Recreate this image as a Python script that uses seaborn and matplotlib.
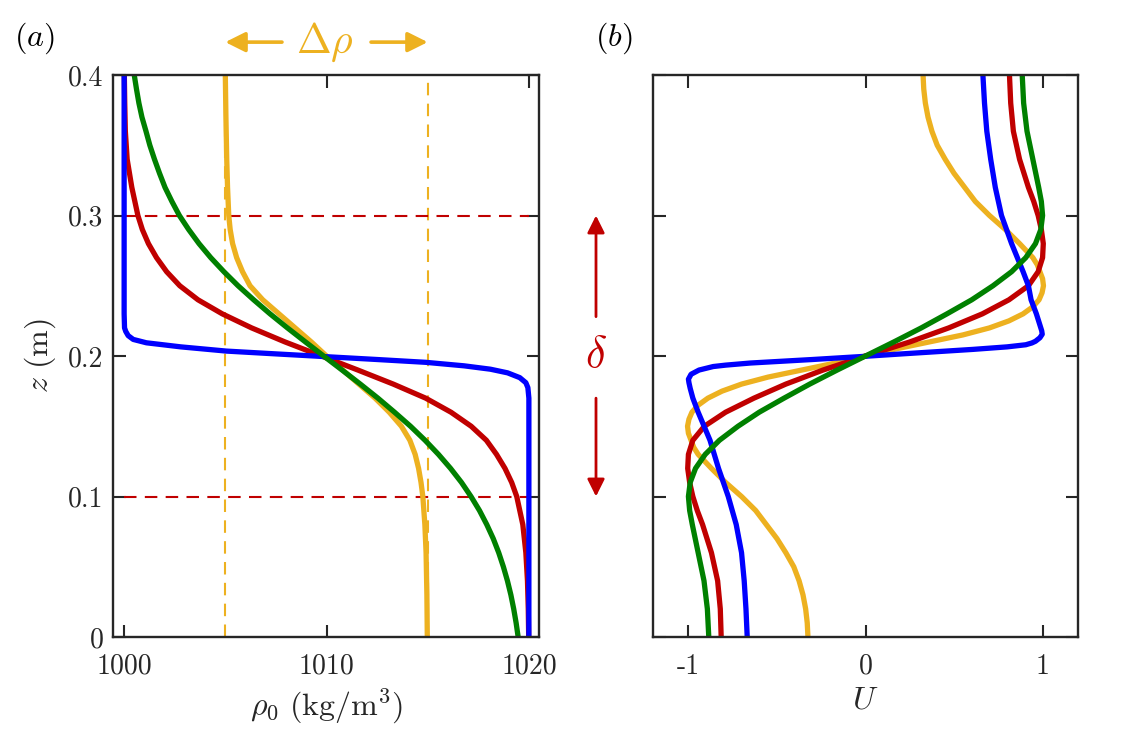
import matplotlib
matplotlib.use("Agg")
import matplotlib.pyplot as plt
import matplotlib.transforms as mtransforms
import seaborn as sns
import pandas as pd

# ---- panel (a): density profiles rho_0(z) ----
z_blue_a = [0.400, 0.300, 0.230, 0.220, 0.2175, 0.2145, 0.2118, 0.2094, 0.2065, 0.2035, 0.2015, 0.1995,
            0.1975, 0.1955, 0.1930, 0.1906, 0.1880, 0.1846, 0.1810, 0.1775, 0.1700, 0.1000, 0.000]
rho_blue = [1000.0, 1000.0, 1000.0, 1000.02, 1000.08, 1000.2, 1000.45, 1001.1, 1002.8, 1005.05, 1007.5, 1010.0,
            1012.5, 1014.9, 1016.8, 1018.1, 1018.95, 1019.55, 1019.85, 1019.95, 1020.0, 1020.0, 1020.0]

z_red_a = [0.40, 0.38, 0.36, 0.34, 0.32, 0.30, 0.29, 0.28, 0.27, 0.26, 0.25, 0.24, 0.23, 0.22, 0.21, 0.20,
           0.19, 0.18, 0.17, 0.16, 0.15, 0.14, 0.13, 0.12, 0.11, 0.10, 0.08, 0.06, 0.04, 0.02, 0.00]
rho_red = [1000.01, 1000.03, 1000.06, 1000.15, 1000.38, 1000.68, 1000.9, 1001.2, 1001.6, 1002.1, 1002.75,
           1003.65, 1004.85, 1006.3, 1007.95, 1009.75, 1011.55, 1013.3, 1014.9, 1016.15, 1017.15, 1017.9,
           1018.4, 1018.82, 1019.15, 1019.4, 1019.7, 1019.85, 1019.93, 1019.97, 1019.99]

z_green_a = [0.40, 0.39, 0.38, 0.37, 0.36, 0.35, 0.34, 0.33, 0.32, 0.31, 0.30, 0.29, 0.28, 0.27, 0.26,
             0.25, 0.24, 0.23, 0.22, 0.21, 0.20, 0.19, 0.18, 0.17, 0.16, 0.15, 0.14, 0.13, 0.12, 0.11,
             0.10, 0.09, 0.08, 0.07, 0.06, 0.05, 0.04, 0.03, 0.02, 0.01, 0.00]
rho_green = [1000.5, 1000.61, 1000.73, 1000.88, 1001.08, 1001.27, 1001.5, 1001.75, 1002.02, 1002.36, 1002.73,
             1003.19, 1003.7, 1004.28, 1004.93, 1005.63, 1006.4, 1007.21, 1008.07, 1008.96, 1009.86,
             1010.77, 1011.67, 1012.54, 1013.36, 1014.15, 1014.87, 1015.53, 1016.13, 1016.67, 1017.14,
             1017.56, 1017.92, 1018.24, 1018.51, 1018.74, 1018.94, 1019.11, 1019.25, 1019.37, 1019.47]

z_yel_a = [0.40, 0.37, 0.34, 0.32, 0.30, 0.29, 0.28, 0.27, 0.26, 0.25, 0.24, 0.23, 0.22, 0.21, 0.20,
           0.19, 0.18, 0.17, 0.16, 0.15, 0.14, 0.13, 0.12, 0.11, 0.10, 0.08, 0.06, 0.03, 0.00]
rho_yel = [1005.0, 1005.03, 1005.07, 1005.11, 1005.17, 1005.24, 1005.36, 1005.56, 1005.85, 1006.22, 1006.85,
           1007.65, 1008.45, 1009.25, 1010.0, 1010.8, 1011.6, 1012.4, 1013.1, 1013.7, 1014.12, 1014.38,
           1014.55, 1014.67, 1014.76, 1014.86, 1014.92, 1014.96, 1014.98]

# ---- panel (b): velocity profiles U(z) ----
z_blue_b = [0.40, 0.38, 0.36, 0.34, 0.32, 0.30, 0.28, 0.26, 0.25, 0.24, 0.23, 0.222, 0.218, 0.2155, 0.213,
            0.2105, 0.2093, 0.208, 0.2065, 0.2047, 0.2017, 0.1998, 0.1975, 0.195, 0.1935, 0.1925, 0.190,
            0.187, 0.1835, 0.181, 0.177, 0.170, 0.16, 0.14, 0.12, 0.10, 0.08, 0.06, 0.04, 0.02, 0.0]
U_blue = [0.663, 0.672, 0.685, 0.707, 0.733, 0.768, 0.825, 0.89, 0.92, 0.935, 0.965, 0.985, 0.995, 0.998, 0.985,
          0.96, 0.94, 0.905, 0.80, 0.606, 0.23, 0.0, -0.3, -0.65, -0.79, -0.86, -0.94,
          -0.985, -1.0, -0.997, -0.99, -0.975, -0.945, -0.878, -0.83, -0.775, -0.73, -0.70, -0.685, -0.675, -0.668]

z_red_b = [0.40, 0.38, 0.36, 0.34, 0.32, 0.31, 0.30, 0.29, 0.28, 0.27, 0.26, 0.25, 0.24, 0.23, 0.22, 0.21,
           0.20, 0.19, 0.18, 0.17, 0.16, 0.15, 0.14, 0.13, 0.12, 0.11, 0.10, 0.09, 0.08, 0.06, 0.04, 0.02, 0.0]
U_red = [0.813, 0.82, 0.835, 0.87, 0.92, 0.95, 0.975, 0.993, 1.004, 1.0, 0.975, 0.92, 0.81, 0.66, 0.47, 0.25,
         0.0, -0.24, -0.45, -0.63, -0.79, -0.91, -0.975, -1.0, -1.004, -0.993, -0.975, -0.95, -0.92, -0.87,
         -0.835, -0.82, -0.815]

z_green_b = [0.40, 0.38, 0.36, 0.34, 0.32, 0.31, 0.30, 0.29, 0.28, 0.27, 0.26, 0.25, 0.24, 0.23, 0.22, 0.21,
             0.20, 0.19, 0.18, 0.17, 0.16, 0.15, 0.14, 0.13, 0.12, 0.11, 0.10, 0.09, 0.08, 0.06, 0.04, 0.02, 0.0]
U_green = [0.885, 0.893, 0.912, 0.945, 0.978, 0.993, 1.0, 0.99, 0.96, 0.905, 0.825, 0.72, 0.6, 0.46, 0.315, 0.16,
           0.0, -0.16, -0.315, -0.46, -0.6, -0.72, -0.825, -0.905, -0.96, -0.99, -1.0, -0.993, -0.978, -0.945,
           -0.912, -0.893, -0.885]

z_yel_b = [0.40, 0.39, 0.38, 0.37, 0.36, 0.35, 0.34, 0.33, 0.32, 0.31, 0.30, 0.29, 0.28, 0.27, 0.265, 0.26,
           0.255, 0.25, 0.245, 0.24, 0.235, 0.23, 0.225, 0.22, 0.215, 0.21, 0.205, 0.20,
           0.195, 0.19, 0.185, 0.18, 0.175, 0.17, 0.165, 0.16, 0.155, 0.15, 0.145, 0.14, 0.135, 0.13,
           0.12, 0.11, 0.10, 0.09, 0.08, 0.07, 0.06, 0.05, 0.04, 0.03, 0.02, 0.01, 0.0]
U_yel = [0.325, 0.329, 0.338, 0.353, 0.375, 0.405, 0.45, 0.5, 0.56, 0.62, 0.70, 0.79, 0.87, 0.945, 0.97, 0.985,
         1.0, 1.005, 0.997, 0.98, 0.945, 0.89, 0.81, 0.70, 0.55, 0.36, 0.17, 0.0,
         -0.17, -0.36, -0.55, -0.70, -0.81, -0.89, -0.945, -0.98, -0.997, -1.005, -1.0, -0.985, -0.97, -0.945,
         -0.87, -0.79, -0.70, -0.62, -0.56, -0.5, -0.45, -0.405, -0.375, -0.353, -0.338, -0.329, -0.325]

# reference lines
rho_bounds = [1005, 1015]
z_bounds = [0.1, 0.3]

c_blue, c_red, c_green, c_yel = "#0000FF", "#C00000", "#008000", "#EDB120"
c_axis = "#262626"

sns.set_theme(style="ticks")
plt.rcParams["font.family"] = ["cmr10", "DejaVu Serif"]
plt.rcParams["mathtext.fontset"] = "cm"
plt.rcParams["axes.unicode_minus"] = False
plt.rcParams["axes.formatter.use_mathtext"] = True
plt.rcParams["lines.solid_joinstyle"] = "round"
plt.rcParams["lines.solid_capstyle"] = "round"

fig = plt.figure(figsize=(11.46, 7.5), dpi=100)
W, H = 1146, 750
ax1 = fig.add_axes([113 / W, 113 / H, 426 / W, 562 / H])
ax2 = fig.add_axes([653 / W, 113 / H, 425 / W, 562 / H])

dash = (0, (6, 4))
for r in rho_bounds:
    ax1.plot([r, r], [0, 0.4], color=c_yel, lw=1.5, ls=dash)
for zz in z_bounds:
    ax1.plot([1000, 1020], [zz, zz], color=c_red, lw=1.5, ls=dash)

lw = 3.8
curves_a = [(rho_yel, z_yel_a, c_yel), (rho_red, z_red_a, c_red),
            (rho_blue, z_blue_a, c_blue), (rho_green, z_green_a, c_green)]
for x, z, c in curves_a:
    df = pd.DataFrame({"x": x, "z": z})
    sns.lineplot(data=df, x="x", y="z", sort=False, estimator=None, ax=ax1, color=c, lw=lw)

curves_b = [(U_yel, z_yel_b, c_yel), (U_red, z_red_b, c_red),
            (U_blue, z_blue_b, c_blue), (U_green, z_green_b, c_green)]
for x, z, c in curves_b:
    df = pd.DataFrame({"x": x, "z": z})
    sns.lineplot(data=df, x="x", y="z", sort=False, estimator=None, ax=ax2, color=c, lw=lw)

fs = 20
fl = 23
for ax in (ax1, ax2):
    ax.set_ylim(0, 0.4)
    ax.set_yticks([0, 0.1, 0.2, 0.3, 0.4])
    ax.tick_params(direction="in", length=9, width=1.5, top=True, right=True,
                   colors=c_axis, labelsize=fs)
    for s in ax.spines.values():
        s.set_linewidth(1.7)
        s.set_color(c_axis)
    ax.set_xlabel("")
    ax.set_ylabel("")

ax1.set_xlim(999.45, 1020.5)
ax1.set_xticks([1000, 1010, 1020])
ax1.set_xticklabels(["1000", "1010", "1020"])
ax1.set_yticklabels(["0", "0.1", "0.2", "0.3", "0.4"])
ax1.tick_params(axis="x", pad=12)
ax1.tick_params(axis="y", pad=7)
ax1.set_xlabel(r"$\rho_0\ \mathrm{(kg/m^3)}$", fontsize=fl, color=c_axis, labelpad=5)
ax1.set_ylabel(r"$z\ \mathrm{(m)}$", fontsize=fl, color=c_axis, labelpad=7)

ax2.set_xlim(-1.2, 1.2)
ax2.set_xticks([-1, 0, 1])
ax2.set_xticklabels(["-1", "0", "1"])
ax2.set_yticklabels([])
ax2.tick_params(axis="x", pad=12)
ax2.set_xlabel(r"$U$", fontsize=fl, color=c_axis, labelpad=5)

# panel letters
fig.text(14 / W, 1 - 38 / H, r"$(a)$", fontsize=fl, color="black", va="center", ha="left")
fig.text(595 / W, 1 - 38 / H, r"$(b)$", fontsize=fl, color="black", va="center", ha="left")

# Delta rho annotation above panel (a)
z_top = 0.4234
ax1.text(1009.9, z_top, r"$\Delta\rho$", fontsize=30, color=c_yel, ha="center", va="center", clip_on=False)
arrow_kw = dict(arrowstyle="-|>", color=c_yel, lw=2.6, mutation_scale=30, shrinkA=0, shrinkB=0)
ax1.annotate("", xy=(1005.0, z_top), xytext=(1007.8, z_top), arrowprops=arrow_kw, annotation_clip=False)
ax1.annotate("", xy=(1015.0, z_top), xytext=(1012.2, z_top), arrowprops=arrow_kw, annotation_clip=False)

# delta annotation between panels
tr = mtransforms.blended_transform_factory(fig.transFigure, ax1.transData)
xd = 596 / W
fig.text(xd, 0.2, r"$\delta$", transform=tr, fontsize=32, color=c_red, ha="center", va="center")
arrow_kw2 = dict(arrowstyle="-|>", color=c_red, lw=2.0, mutation_scale=26, shrinkA=0, shrinkB=0)
ax1.annotate("", xy=(xd, 0.3), xytext=(xd, 0.228), xycoords=tr, textcoords=tr,
             arrowprops=arrow_kw2, annotation_clip=False)
ax1.annotate("", xy=(xd, 0.1), xytext=(xd, 0.170), xycoords=tr, textcoords=tr,
             arrowprops=arrow_kw2, annotation_clip=False)

fig.savefig("out.png", dpi=100)
